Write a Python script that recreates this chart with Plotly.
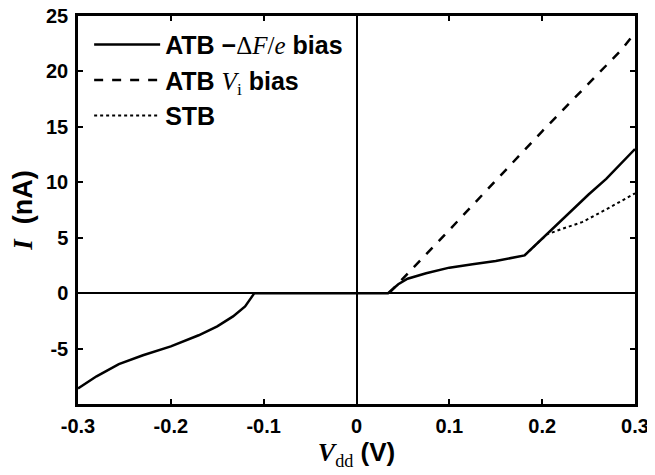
import plotly.graph_objects as go

# ATB -ΔF/e bias (solid)
solid_x = [-0.30, -0.28, -0.256, -0.23, -0.20, -0.17, -0.15, -0.133, -0.12, -0.11, 0.0, 0.034, 0.045, 0.055, 0.075, 0.10, 0.125, 0.15, 0.181, 0.22, 0.25, 0.269, 0.30]
solid_y = [-8.6, -7.5, -6.4, -5.6, -4.8, -3.8, -3.0, -2.1, -1.2, 0.0, 0.0, 0.0, 0.8, 1.3, 1.8, 2.3, 2.6, 2.9, 3.4, 6.5, 8.9, 10.3, 13.0]
# ATB Vi bias (dashed)
dash_x = [0.035, 0.10, 0.20, 0.286, 0.30]
dash_y = [0.0, 5.7, 14.6, 22.0, 23.5]
# STB (dotted)
stb_x = [0.181, 0.205, 0.225, 0.243, 0.27, 0.30]
stb_y = [3.4, 5.3, 5.9, 6.4, 7.6, 9.0]

xtick_vals = [-0.3, -0.2, -0.1, 0, 0.1, 0.2, 0.3]
xtick_text = ["-0.3", "-0.2", "-0.1", "0", "0.1", "0.2", "0.3"]
ytick_vals = [-5, 0, 5, 10, 15, 20, 25]
ytick_text = ["-5", "0", "5", "10", "15", "20", "25"]

serif = "Liberation Serif"
fig = go.Figure()
fig.add_trace(go.Scatter(x=solid_x, y=solid_y, mode="lines",
                         line=dict(color="black", width=2.5),
                         legendgroup="a",
                         name=f"<b>ATB −</b><span style='font-family:{serif}'>Δ<i>F</i>/<i>e</i></span><b> bias</b>"))
fig.add_trace(go.Scatter(x=dash_x, y=dash_y, mode="lines",
                         line=dict(color="black", width=2.5, dash="dash"),
                         legendgroup="b",
                         name=f"<b>ATB </b><span style='font-family:{serif}'><i>V</i><sub>i</sub></span><b> bias</b>"))
fig.add_trace(go.Scatter(x=stb_x, y=stb_y, mode="lines",
                         line=dict(color="black", width=2, dash="dot"),
                         legendgroup="c",
                         name="<b>STB</b>"))

axis_common = dict(showline=True, linecolor="black", linewidth=2.5, mirror="allticks",
                   ticks="inside", ticklen=5, tickwidth=2, tickcolor="black",
                   showgrid=False, zeroline=True, zerolinecolor="black", zerolinewidth=1.5,
                   automargin=False, ticklabeloverflow="allow",
                   tickfont=dict(family="Liberation Sans", size=20, color="black", weight="bold"))

fig.update_xaxes(range=[-0.3, 0.3], tickvals=xtick_vals, ticktext=xtick_text,
                 ticklabelstandoff=2,
                 title=dict(text=f"<span style='font-family:{serif}'><b><i>V</i></b><sub>dd</sub></span> <b>(V)</b>",
                            font=dict(family="Liberation Sans", size=26, color="black"), standoff=8),
                 **axis_common)
fig.update_yaxes(range=[-10, 25], tickvals=ytick_vals, ticktext=ytick_text,
                 ticklabelstandoff=3,
                 title=dict(text=f"<span style='font-family:{serif}'><b><i>I</i></b></span>  <b>(nA)</b>",
                            font=dict(family="Liberation Sans", size=27, color="black"), standoff=10),
                 **axis_common)

fig.update_layout(
    width=647, height=467,
    margin=dict(l=70, r=20, t=8, b=71),
    plot_bgcolor="white", paper_bgcolor="white",
    showlegend=True,
    legend=dict(x=0.02, y=0.985, xanchor="left", yanchor="top",
                bgcolor="rgba(0,0,0,0)", tracegroupgap=0, itemwidth=66,
                font=dict(family="Liberation Sans", size=25, color="black")),
)

fig.write_html("out.html")
